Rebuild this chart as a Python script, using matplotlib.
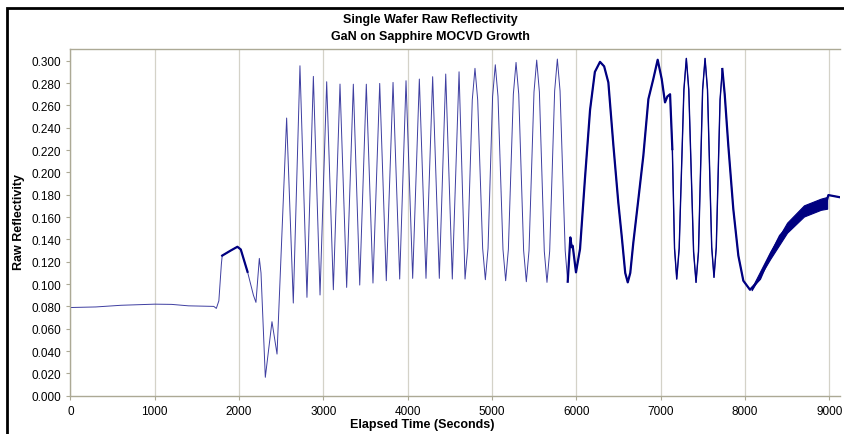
import numpy as np
import matplotlib
matplotlib.use('Agg')
from matplotlib import pyplot as plt
from matplotlib.patches import Rectangle

plt.rcParams['font.family'] = ['Liberation Sans', 'DejaVu Sans']

# elapsed time (s) and raw reflectivity
time_s = np.array([
    0, 300, 600, 1000, 1200, 1400, 1700, 1730, 1760, 1790, 1800, 1900, 1980,
    2020, 2100, 2170, 2200, 2240, 2260, 2311, 2390, 2450, 2564, 2643, 2722,
    2805, 2881, 2960, 3039, 3118, 3197, 3276, 3355, 3431, 3509, 3588, 3668,
    3746, 3826, 3905, 3980, 4059, 4138, 4217, 4296, 4375, 4451, 4529, 4609,
    4680, 4712, 4766, 4798, 4830, 4889, 4921, 4953, 5007, 5039, 5071, 5130,
    5162, 5194, 5253, 5285, 5317, 5375, 5407, 5439, 5498, 5530, 5562, 5620,
    5652, 5684, 5743, 5775, 5807, 5868, 5898, 5929,
    5945, 5957, 5996, 6044, 6103, 6163, 6220, 6281, 6330, 6380, 6440, 6498,
    6538, 6580, 6610, 6640, 6676, 6736, 6795, 6855, 6913, 6965, 7013, 7052,
    7080, 7112, 7139, 7165, 7191, 7220, 7276, 7305, 7334, 7391, 7420, 7449,
    7498, 7527, 7556, 7606, 7633, 7660, 7705, 7732, 7760, 7803, 7862, 7922,
    7981, 8060, 8179, 8298, 8416, 8574, 8733, 8852, 8970, 8990, 9130])
reflect = np.array([
    0.0790, 0.0795, 0.0810, 0.0820, 0.0818, 0.0805, 0.0800, 0.0782, 0.0850,
    0.1180, 0.1255, 0.1300, 0.1334, 0.1310, 0.1110, 0.0900, 0.0836, 0.1230,
    0.1100, 0.0165, 0.0663, 0.0373, 0.2487, 0.0830, 0.2955, 0.0881, 0.2860,
    0.0902, 0.2812, 0.0949, 0.2791, 0.0970, 0.2790, 0.0991, 0.2790, 0.1009,
    0.2797, 0.1030, 0.2806, 0.1045, 0.2821, 0.1051, 0.2836, 0.1051, 0.2857,
    0.1051, 0.2881, 0.1045, 0.2901,
    0.1045, 0.1320, 0.2650, 0.2932, 0.2650, 0.1320, 0.1039, 0.1320, 0.2680,
    0.2964, 0.2680, 0.1310, 0.1030, 0.1310, 0.2700, 0.2985, 0.2700, 0.1300,
    0.1021, 0.1300, 0.2720, 0.3006, 0.2720, 0.1295, 0.1015, 0.1295, 0.2730,
    0.3015, 0.2730, 0.1300, 0.1021, 0.1418,
    0.1330, 0.1343, 0.1105, 0.1314, 0.1950, 0.2560, 0.2900, 0.2990, 0.2950,
    0.2806, 0.2239, 0.1730, 0.1433, 0.1100, 0.1015, 0.1100, 0.1370, 0.1760,
    0.2150, 0.2657, 0.2836, 0.3009, 0.2836, 0.2627, 0.2680, 0.2700, 0.2209,
    0.1320, 0.1045, 0.1320, 0.2740, 0.3021, 0.2740, 0.1290, 0.1015, 0.1290,
    0.2740, 0.3021, 0.2740, 0.1330, 0.1060, 0.1330, 0.2650, 0.2926, 0.2700,
    0.2239, 0.1672, 0.1254, 0.1030, 0.0949, 0.1045, 0.1254, 0.1433, 0.1567,
    0.1672, 0.1717, 0.1746, 0.1797, 0.1777])

# noisy band during the last ramp
band_t = np.array([8080, 8300, 8500, 8700, 8900, 8975])
band_lo = np.array([0.0945, 0.1225, 0.1460, 0.1605, 0.1665, 0.1675])
band_hi = np.array([0.0965, 0.1290, 0.1550, 0.1705, 0.1765, 0.1780])

x_ticks = np.arange(0, 9001, 1000)
y_ticks = np.arange(0, 0.3001, 0.02)

navy = '#000080'
frame_col = '#aca995'

fig = plt.figure(figsize=(8.44, 4.35), dpi=100)
ax = fig.add_axes([0.0835, 0.088, 0.912, 0.797])

ax.plot(time_s, reflect, color='#1c1c90', lw=0.7, alpha=0.85)
warm = (time_s >= 1800) & (time_s <= 2100)
ax.plot(time_s[warm], reflect[warm], color=navy, lw=1.6)
mid = (time_s >= 5898) & (time_s <= 7139)
ax.plot(time_s[mid], reflect[mid], color=navy, lw=1.6)
mid2 = (time_s >= 7139) & (time_s <= 7732)
ax.plot(time_s[mid2], reflect[mid2], color=navy, lw=1.0)
late = time_s >= 7732
ax.plot(time_s[late], reflect[late], color=navy, lw=1.6)
ax.fill_between(band_t, band_lo, band_hi, color=navy, lw=0.8)

ax.set_xlim(0, 9130)
ax.set_ylim(0, 0.3105)
ax.set_xticks(x_ticks)
ax.set_yticks(y_ticks)
ax.set_yticklabels(['%.3f' % v for v in y_ticks])
ax.xaxis.grid(True, color='#d4d2c8', lw=0.9)
ax.set_axisbelow(True)
for side in ['top', 'left', 'bottom']:
    ax.spines[side].set_color(frame_col)
    ax.spines[side].set_linewidth(1.0)
ax.spines['right'].set_visible(False)
ax.tick_params(axis='both', colors=frame_col, labelcolor='black',
               labelsize=8.5, length=3, width=0.8)

fig.text(0.51, 0.955, 'Single Wafer Raw Reflectivity', ha='center',
         va='center', fontsize=9, fontweight='bold')
fig.text(0.51, 0.915, 'GaN on Sapphire MOCVD Growth', ha='center',
         va='center', fontsize=9, fontweight='bold')
fig.text(0.5, 0.022, 'Elapsed Time (Seconds)', ha='center', va='center',
         fontsize=9, fontweight='bold')
fig.text(0.022, 0.49, 'Raw Reflectivity', ha='center', va='center',
         rotation=90, fontsize=9, fontweight='bold')

# outer chart frame (left and top edges visible)
fig.patches.append(Rectangle((7 / 844, -0.1), 1.2, 1.1 - 9 / 435,
                             transform=fig.transFigure, fill=False,
                             edgecolor='black', lw=2.0))

fig.savefig('out.png', dpi=100)
